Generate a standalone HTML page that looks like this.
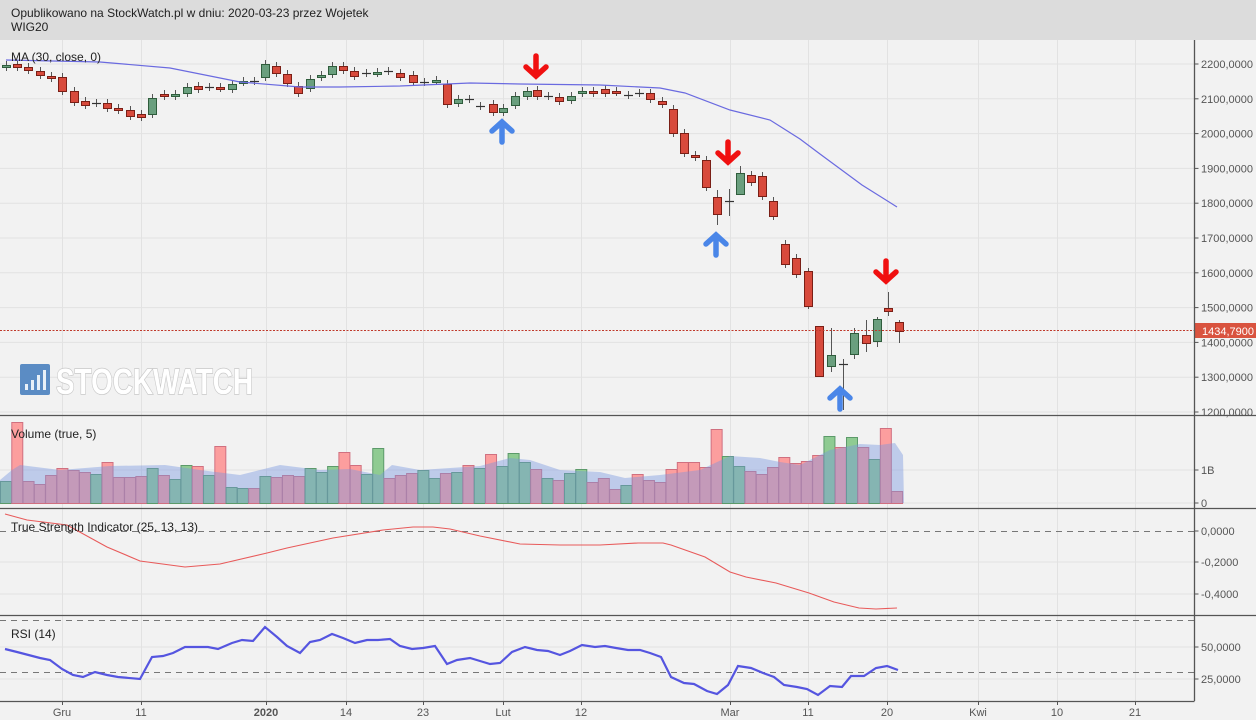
<!DOCTYPE html>
<html><head><meta charset="utf-8"><style>
html,body{margin:0;padding:0;background:#f2f2f2;}
body{width:1256px;height:720px;overflow:hidden;position:relative;font-family:"Liberation Sans",sans-serif;}
#hdr{position:absolute;left:0;top:0;width:1256px;height:40px;background:#dcdcdc;font-size:12px;color:#222;line-height:13px;}
#hdr div{position:absolute;left:11px;}
svg{position:absolute;left:0;top:0;}
</style></head><body>
<div id="hdr"><div style="top:7px">Opublikowano na StockWatch.pl w dniu: 2020-03-23 przez Wojetek</div><div style="top:21px">WIG20</div></div>
<svg id="s" width="1256" height="720" xmlns="http://www.w3.org/2000/svg" style="top:0"></svg>
<script>
var NS="http://www.w3.org/2000/svg",S=document.getElementById('s');
function el(t,a,txt){var e=document.createElementNS(NS,t);for(var k in a)e.setAttribute(k,a[k]);if(txt!==undefined)e.textContent=txt;S.appendChild(e);return e;}
var AX=1194.5;
var vx=[62,141,266,346,423,503,581,730,808,887,978,1057,1135];
vx.forEach(function(x){el('line',{x1:x+.5,y1:40,x2:x+.5,y2:701,stroke:'#e2e2e2','stroke-width':1});});
for(var i=0;i<11;i++){var y=64+i*34.8;el('line',{x1:0,y1:y,x2:AX,y2:y,stroke:'#e2e2e2'});}
[470,503].forEach(function(y){el('line',{x1:0,y1:y,x2:AX,y2:y,stroke:'#e2e2e2'});});
[562,594].forEach(function(y){el('line',{x1:0,y1:y,x2:AX,y2:y,stroke:'#e2e2e2'});});
[647,679].forEach(function(y){el('line',{x1:0,y1:y,x2:AX,y2:y,stroke:'#e2e2e2'});});
el('rect',{x:20,y:364,width:30,height:31,fill:'#5b8cc4',rx:2});
[[25,384,4],[31,380,4],[37,375,4],[43,370,4]].forEach(function(b){el('rect',{x:b[0],y:b[1],width:3,height:390-b[1],fill:'#e8f0f8'});});
el('text',{x:56,y:394,'font-size':36,'font-weight':'bold',fill:'#ffffff',stroke:'#c8c8c8','stroke-width':1.5,'paint-order':'stroke',textLength:197,lengthAdjust:'spacingAndGlyphs','font-family':'Liberation Sans Narrow, Liberation Sans, sans-serif'},'STOCKWATCH');
var C=[[6,65,67,'g'],[17,64,67,'r'],[28,67,70,'r'],[40,71,75,'r'],[51,76,78,'r'],[62,77,91,'r'],[74,91,102,'r'],[85,101,105,'r'],[96,103,103,'c'],[107,103,108,'r'],[118,108,110,'r'],[130,110,116,'r'],[141,114,117,'r'],[152,98,114,'g'],[164,94,96,'r'],[175,94,96,'g'],[187,87,93,'g'],[198,86,89,'r'],[209,87,87,'c'],[220,87,88,'r'],[232,84,89,'g'],[243,81,82,'g'],[254,81,81,'c'],[265,64,77,'g'],[276,66,73,'r'],[287,74,83,'r'],[298,86,93,'r'],[310,79,88,'g'],[321,75,77,'g'],[332,66,74,'g'],[343,66,70,'r'],[354,71,76,'r'],[366,73,73,'c'],[377,72,73,'g'],[388,71,71,'c'],[400,73,77,'r'],[413,75,82,'r'],[424,82,82,'c'],[436,80,81,'g'],[447,84,104,'r'],[458,99,103,'g'],[469,99,99,'c'],[480,106,106,'c'],[493,104,112,'r'],[503,108,112,'g'],[515,96,105,'g'],[527,91,96,'g'],[537,90,96,'r'],[548,96,96,'c'],[559,97,101,'r'],[571,96,100,'g'],[582,91,93,'g'],[593,91,93,'r'],[605,89,93,'r'],[616,91,92,'r'],[628,95,95,'c'],[639,93,93,'c'],[650,93,99,'r'],[662,101,104,'r'],[673,109,133,'r'],[684,133,153,'r'],[695,155,157,'r'],[706,160,187,'r'],[717,197,214,'r'],[729,201,201,'c'],[740,173,194,'g'],[751,175,182,'r'],[762,176,196,'r'],[773,201,216,'r'],[785,244,264,'r'],[796,258,274,'r'],[808,271,306,'r'],[819,326,376,'r'],[831,355,366,'g'],[843,364,364,'c'],[854,333,354,'g'],[866,335,343,'r'],[877,319,341,'g'],[888,308,311,'r'],[899,322,331,'r']];
var W={831:[328,372],843:[359,410],888:[292,316],899:[320,343],729:[189,216],717:[190,225],740:[166,194],854:[328,359],866:[320,352],877:[317,347],819:[326,376],808:[268,309]};
C.forEach(function(c){var x=c[0],w=W[x]||[c[1]-4,c[2]+4];
 var col=c[3]=='g'?'#6a9f7e':c[3]=='r'?'#d84a3c':'#5a6a5a',st=c[3]=='g'?'#2f5d3c':c[3]=='r'?'#7a1f16':'#333';
 el('line',{x1:x+.5,y1:w[0],x2:x+.5,y2:w[1],stroke:'#555','stroke-width':1});
 if(c[3]=='c'){el('line',{x1:x-4,y1:c[1]+.5,x2:x+5,y2:c[1]+.5,stroke:'#333','stroke-width':1.2});}
 else el('rect',{x:x-3.5,y:c[1]+.5,width:8,height:Math.max(2,c[2]-c[1]),fill:col,stroke:st,'stroke-width':1});});
el('polyline',{points:'6,60 100,62 170,68 240,82 300,87 340,87 400,86 470,83 520,84 600,85 660,88 685,93 730,110 770,120 800,139 820,154 862,185 897,207',fill:'none',stroke:'#6a6ae0','stroke-width':1.2});
function arrow(x,y,down,col){var d=down?1:-1;
 el('path',{d:'M'+x+' '+(y-10*d)+' L'+x+' '+(y+10*d)+' M'+(x-10)+' '+(y+1*d)+' L'+x+' '+(y+10*d)+' L'+(x+10)+' '+(y+1*d),fill:'none',stroke:col,'stroke-width':5.5,'stroke-linecap':'round','stroke-linejoin':'miter'});}
arrow(536,66,true,'#f01010');arrow(728,152,true,'#f01010');arrow(886,271,true,'#f01010');
arrow(502,132,false,'#4a86e8');arrow(716,245,false,'#4a86e8');arrow(840,399,false,'#4a86e8');
el('line',{x1:0,y1:330.5,x2:AX,y2:330.5,stroke:'#c0392b','stroke-width':1,'stroke-dasharray':'2,1.5'});
el('rect',{x:1195,y:323,width:61,height:15,fill:'#d9533f'});
el('text',{x:1202,y:335,'font-size':11,fill:'#fff'},'1434,7900');
el('text',{x:11,y:61,'font-size':12,fill:'#222'},'MA (30, close, 0)');
var V=[[0,481,'g'],[1,422,'r'],[2,481,'r'],[3,484,'r'],[4,475,'r'],[5,468,'r'],[6,470,'r'],[7,472,'r'],[8,474,'g'],[9,462,'r'],[10,477,'r'],[11,477,'r'],[12,476,'r'],[13,468,'g'],[14,475,'r'],[15,479,'g'],[16,465,'g'],[17,466,'r'],[18,475,'g'],[19,446,'r'],[20,487,'g'],[21,488,'g'],[22,488,'r'],[23,476,'g'],[24,477,'r'],[25,475,'r'],[26,476,'r'],[27,468,'g'],[28,472,'g'],[29,466,'g'],[30,452,'r'],[31,465,'r'],[32,474,'g'],[33,448,'g'],[34,478,'r'],[35,475,'r'],[36,473,'r'],[37,470,'g'],[38,478,'g'],[39,473,'r'],[40,472,'g'],[41,465,'r'],[42,468,'g'],[43,454,'r'],[44,466,'g'],[45,453,'g'],[46,462,'g'],[47,469,'r'],[48,478,'g'],[49,480,'r'],[50,473,'g'],[51,469,'g'],[52,482,'r'],[53,478,'r'],[54,489,'r'],[55,485,'g'],[56,474,'r'],[57,480,'r'],[58,482,'r'],[59,469,'r'],[60,462,'r'],[61,462,'r'],[62,467,'r'],[63,429,'r'],[64,456,'g'],[65,466,'g'],[66,471,'r'],[67,474,'r'],[68,467,'r'],[69,457,'r'],[70,463,'r'],[71,461,'r'],[72,455,'r'],[73,436,'g'],[74,447,'r'],[75,437,'g'],[76,447,'r'],[77,459,'g'],[78,428,'r'],[79,491,'r']];
V.forEach(function(v){var x=v[0]*11.28;el('rect',{x:x+.5,y:v[1]+.5,width:11,height:503-v[1],fill:v[2]=='g'?'#8fcb92':'#fc9e9e',stroke:v[2]=='g'?'#5c9a6a':'#d07080','stroke-width':1});});
el('path',{d:'M0,503 L0,480 L12,470 L20,465 L60,470 L110,466 L165,465 L200,470 L240,475 L280,465 L320,470 L350,469 L380,475 L392,465 L420,470 L480,466 L510,458 L530,460 L560,470 L600,472 L625,478 L660,475 L700,470 L730,456 L760,458 L780,462 L800,465 L830,450 L860,444 L880,445 L895,443 L903,455 L904,503 Z',fill:'rgba(120,150,225,0.42)'});
el('text',{x:11,y:438,'font-size':12,fill:'#222'},'Volume (true, 5)');
el('line',{x1:0,y1:531.5,x2:AX,y2:531.5,stroke:'#777','stroke-dasharray':'6,5'});
el('polyline',{points:'5,514 27,520 67,525 107,547 140,561 185,567 220,564 267,553 287,548 333,538 383,530 413,527 433,527 450,529 480,536 520,544 560,545 600,545 638,543 663,543 671,545 705,557 730,572 746,577 776,583 809,593 834,602 859,608 876,609 897,608',fill:'none',stroke:'#e85a5a','stroke-width':1.1});
el('text',{x:11,y:531,'font-size':12,fill:'#222'},'True Strength Indicator (25, 13, 13)');
el('line',{x1:0,y1:620.5,x2:AX,y2:620.5,stroke:'#777','stroke-dasharray':'6,5'});
el('line',{x1:0,y1:672.5,x2:AX,y2:672.5,stroke:'#777','stroke-dasharray':'6,5'});
el('polyline',{points:'5,649 17,652 40,658 50,660 62,669 73,675 83,677 95,672 107,675 118,677 140,679 152,657 163,656 173,653 185,647 208,647 218,649 232,643 242,640 253,641 265,627 277,637 287,646 300,653 310,642 320,640 332,634 343,638 355,643 367,640 378,640 390,639 400,646 412,649 423,648 435,646 447,664 457,660 470,658 480,661 490,664 500,663 512,652 525,647 537,650 548,651 560,655 570,651 582,645 595,647 605,646 616,648 628,650 640,650 650,653 661,657 671,677 684,683 694,684 707,691 717,694 728,685 738,666 751,668 763,673 774,677 784,685 797,687 807,689 818,695 830,686 842,687 851,676 864,676 876,668 887,666 898,670',fill:'none',stroke:'#5555e0','stroke-width':2.2});
el('text',{x:11,y:638,'font-size':12,fill:'#222'},'RSI (14)');
[415.5,508.5,615.5].forEach(function(y){el('line',{x1:0,y1:y,x2:1256,y2:y,stroke:'#555','stroke-width':1.3});});
el('line',{x1:0,y1:701.5,x2:AX,y2:701.5,stroke:'#555','stroke-width':1.3});
el('line',{x1:AX,y1:40,x2:AX,y2:701,stroke:'#555','stroke-width':1.3});
function yl(y,t){el('line',{x1:AX,y1:y,x2:AX+4,y2:y,stroke:'#555'});el('text',{x:1201,y:y+4,'font-size':11,fill:'#555'},t);}
for(var i=0;i<=10;i++){var y=64+i*34.8;if(y<414)yl(y,(2200-i*100)+',0000');}
yl(470,'1B');yl(503,'0');yl(531,'0,0000');yl(562,'-0,2000');yl(594,'-0,4000');yl(647,'50,0000');yl(679,'25,0000');
var XL=[[62,'Gru'],[141,'11'],[266,'2020'],[346,'14'],[423,'23'],[503,'Lut'],[581,'12'],[730,'Mar'],[808,'11'],[887,'20'],[978,'Kwi'],[1057,'10'],[1135,'21']];
XL.forEach(function(l){el('line',{x1:l[0]+.5,y1:701,x2:l[0]+.5,y2:705,stroke:'#555'});el('text',{x:l[0],y:716,'font-size':11,fill:'#555','text-anchor':'middle','font-weight':l[1]=='2020'?'bold':'normal'},l[1]);});
</script>
</body></html>
